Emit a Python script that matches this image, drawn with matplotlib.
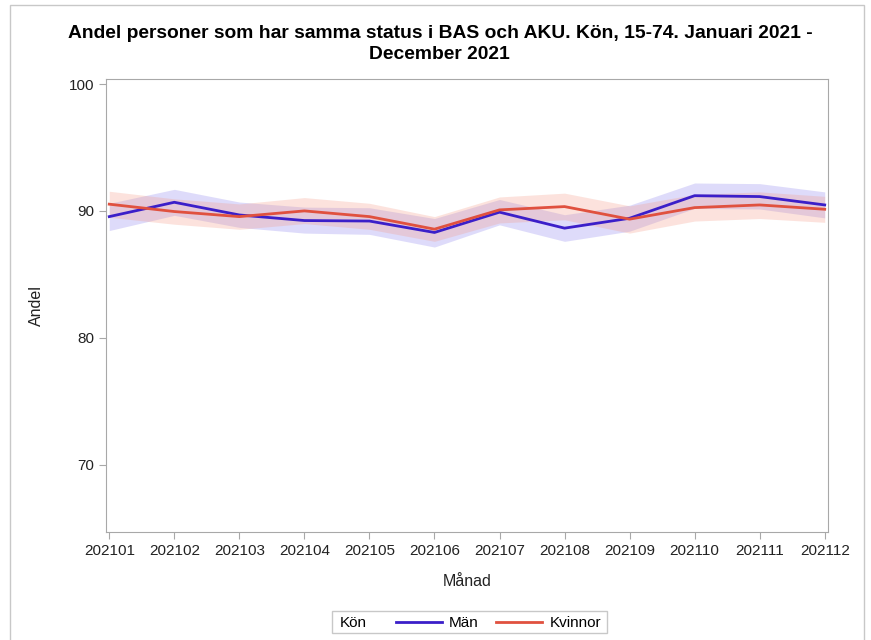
import numpy as np
import matplotlib.pyplot as plt
from matplotlib.lines import Line2D
from matplotlib.patches import Rectangle

plt.rcParams['font.family'] = ['Liberation Sans', 'DejaVu Sans']

# Data
manad = ["202101", "202102", "202103", "202104", "202105", "202106",
         "202107", "202108", "202109", "202110", "202111", "202112"]
man = [89.55, 90.68, 89.68, 89.24, 89.20, 88.30, 89.90, 88.64, 89.42, 91.20, 91.13, 90.47]
man_lo = [88.45, 89.65, 88.70, 88.25, 88.15, 87.15, 88.90, 87.60, 88.40, 90.20, 90.15, 89.45]
man_hi = [90.60, 91.70, 90.70, 90.30, 90.25, 89.40, 90.90, 89.70, 90.45, 92.20, 92.15, 91.50]
kvinnor = [90.53, 89.95, 89.55, 90.00, 89.55, 88.56, 90.08, 90.34, 89.35, 90.26, 90.47, 90.13]
kvi_lo = [89.50, 88.95, 88.55, 89.00, 88.55, 87.60, 89.05, 89.30, 88.25, 89.20, 89.40, 89.10]
kvi_hi = [91.55, 90.95, 90.55, 91.05, 90.60, 89.55, 91.10, 91.40, 90.40, 91.30, 91.50, 91.15]

blue = "#3b1fc9"
red = "#e0513f"

fig = plt.figure(figsize=(8.71, 6.40), dpi=100)
ax = fig.add_axes([0.1217, 0.169, 0.8289, 0.7076])

x = np.arange(len(manad))
ax.fill_between(x, man_lo, man_hi, color="#8a80ee", alpha=0.28, linewidth=0)
ax.fill_between(x, kvi_lo, kvi_hi, color="#f59a85", alpha=0.28, linewidth=0)
ax.plot(x, man, color=blue, linewidth=2)
ax.plot(x, kvinnor, color=red, linewidth=2)

ax.set_xlim(-0.05, 11.05)
ax.set_ylim(64.7, 100.4)
ax.set_yticks([70, 80, 90, 100])
ax.set_xticks(x)
ax.set_xticklabels(manad)

for s in ax.spines.values():
    s.set_color("#a8a8a8")
ax.tick_params(colors="#a8a8a8", labelcolor="#222222", labelsize=11, length=5)
ax.set_xlabel("Månad", fontsize=11.5, color="#222222", labelpad=12)
ax.set_ylabel("Andel", fontsize=11.5, color="#222222", labelpad=18)

fig.text(0.505, 0.931, "Andel personer som har samma status i BAS och AKU. Kön, 15-74. Januari 2021 -\nDecember 2021",
         ha="center", va="center", fontsize=13.9, fontweight="bold", linespacing=1.3)

# outer frame
fig.patches.append(Rectangle((0.0115, -0.01), 0.98, 1.002, transform=fig.transFigure,
                             fill=False, edgecolor="#c8c8c8", linewidth=1))

# legend
handles = [Line2D([], [], color=blue, linewidth=2), Line2D([], [], color=red, linewidth=2)]
leg = fig.legend(handles, ["Män", "Kvinnor"], loc="center left", bbox_to_anchor=(0.4386, 0.0265),
                 ncol=2, frameon=False, fontsize=11, handlelength=3.0, columnspacing=1.1,
                 handletextpad=0.5)
fig.text(0.390, 0.0265, "Kön", ha="left", va="center", fontsize=11)
fig.patches.append(Rectangle((0.381, 0.011), 0.316, 0.035, transform=fig.transFigure,
                             fill=False, edgecolor="#c8c8c8", linewidth=1))

plt.savefig("out.png", dpi=100)
